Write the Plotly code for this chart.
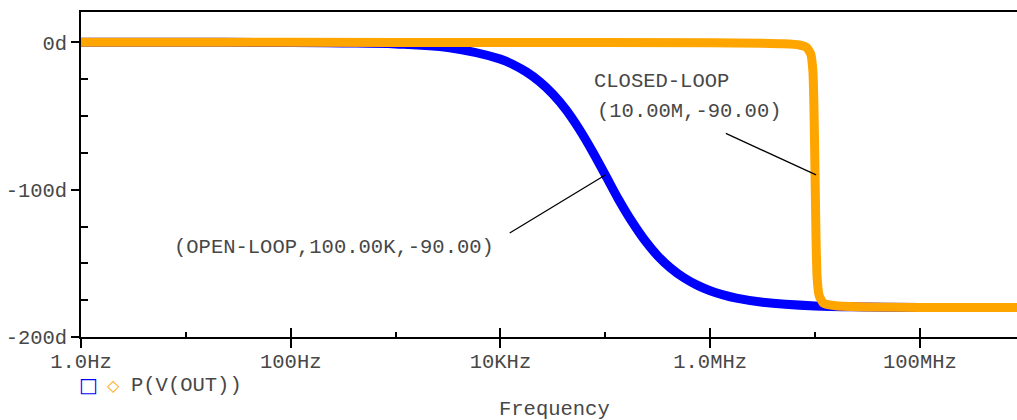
import plotly.graph_objects as go

# ---- data ----
freq_open = [1, 10, 100, 316, 1000, 3160, 10000, 13300, 17800, 23700, 31600, 42200,
             56200, 75000, 100000, 133000, 178000, 237000, 316000, 422000, 562000,
             750000, 1000000, 1330000, 1780000, 3160000, 10000000, 31600000,
             100000000, 850000000]
phase_open = [0, 0, -0.1, -0.4, -1.1, -3.6, -11.4, -15.2, -20.2, -26.7, -35.1, -45.7,
              -58.7, -73.7, -90, -106.3, -121.3, -134.2, -144.9, -153.3, -159.8,
              -164.8, -168.6, -171.4, -173.6, -176.4, -178.9, -179.6, -180, -180]

freq_closed = [1, 100, 10000, 1000000, 3160000, 5000000, 7080000, 8320000, 9120000,
               9550000, 9770000, 10000000, 10230000, 10470000, 10960000, 12000000,
               15800000, 31600000, 100000000, 850000000]
phase_closed = [0, 0, -0.1, -0.3, -0.6, -1.0, -1.8, -3.5, -8, -20, -45, -90,
                -135, -160, -172, -177, -178.8, -179.6, -180, -180]

x_tick_vals = [1, 100, 10000, 1000000, 100000000]
x_tick_text = ["1.0Hz", "100Hz", "10KHz", "1.0MHz", "100MHz"]
x_minor_vals = [10, 1000, 100000, 10000000]
y_tick_vals = [0, -100, -200]
y_tick_text = ["0d", "-100d", "-200d"]
y_minor_vals = [-25, -50, -75, -125, -150, -175]

FONT = "Liberation Mono"
TXT = "#474747"
X_RANGE = [0, 8.926]
Y_RANGE = [-200, 20.6]

W, H = 1017, 420
L, R, T, B = 81, 0, 12, 83


def px_x(p):
    return (p - L) / (W - L - R)


def px_y(p):
    return (H - B - p) / (H - B - T)


fig = go.Figure()
fig.add_trace(go.Scatter(x=freq_open, y=phase_open, mode="lines",
                         line=dict(color="#0000ff", width=9, shape="spline", smoothing=1),
                         showlegend=False, hoverinfo="skip"))
fig.add_trace(go.Scatter(x=freq_closed, y=phase_closed, mode="lines",
                         line=dict(color="#ffa500", width=9, shape="spline", smoothing=0.5),
                         showlegend=False, hoverinfo="skip"))
# invisible trace to hold the overlay axis (outer part of major ticks)
fig.add_trace(go.Scatter(x=[1], y=[0], xaxis="x2", mode="markers",
                         marker=dict(opacity=0), showlegend=False, hoverinfo="skip"))

tickfont = dict(family=FONT, size=20.5, color=TXT)

fig.update_layout(
    width=W, height=H,
    margin=dict(l=L, r=R, t=T, b=B, autoexpand=False),
    paper_bgcolor="white", plot_bgcolor="white",
    xaxis=dict(type="log", range=X_RANGE, tickvals=x_tick_vals, ticktext=x_tick_text,
               ticks="inside", ticklen=9, tickwidth=1.5, tickcolor="black",
               showline=True, linecolor="black", linewidth=1.5, mirror=True,
               showgrid=False, zeroline=False, tickfont=tickfont,
               ticklabelstandoff=5, automargin=False,
               minor=dict(tickvals=x_minor_vals, ticks="inside", ticklen=5,
                          tickwidth=1.5, tickcolor="black", showgrid=False)),
    xaxis2=dict(type="log", range=X_RANGE, overlaying="x", anchor="y", side="bottom",
                tickvals=x_tick_vals, ticks="outside", ticklen=10, tickwidth=1.5,
                tickcolor="black", showticklabels=False, showline=False,
                showgrid=False, zeroline=False, automargin=False),
    yaxis=dict(range=Y_RANGE, tickvals=y_tick_vals, ticktext=y_tick_text,
               ticks="outside", ticklen=8, tickwidth=1.5, tickcolor="black",
               showline=True, linecolor="black", linewidth=1.5, mirror=True,
               showgrid=False, zeroline=False, tickfont=tickfont, automargin=False,
               minor=dict(tickvals=y_minor_vals, ticks="inside", ticklen=7,
                          tickwidth=1.5, tickcolor="black", showgrid=False)),
)

annfont = dict(family=FONT, size=20.5, color=TXT)
anns = [
    dict(text="CLOSED-LOOP", x=4.874, y=-26.7, xref="x", yref="y",
         xanchor="left", yanchor="middle", showarrow=False, font=annfont),
    dict(text="(10.00M,-90.00)", x=4.903, y=-47.0, xref="x", yref="y",
         xanchor="left", yanchor="middle", showarrow=False, font=annfont),
    dict(text="(OPEN-LOOP,100.00K,-90.00)", x=0.870, y=-139.4, xref="x", yref="y",
         xanchor="left", yanchor="middle", showarrow=False, font=annfont),
    # leader lines
    dict(text="", x=7.01, y=-90, xref="x", yref="y", ax=6.135, ay=-61.3,
         axref="x", ayref="y", showarrow=True, arrowhead=0, arrowwidth=1.3,
         arrowcolor="black", standoff=0, startstandoff=0),
    dict(text="", x=5.0, y=-90, xref="x", yref="y", ax=4.074, ay=-130.0,
         axref="x", ayref="y", showarrow=True, arrowhead=0, arrowwidth=1.3,
         arrowcolor="black", standoff=0, startstandoff=0),
    # legend
    dict(text="□", x=px_x(88), y=px_y(385), xref="paper", yref="paper",
         xanchor="center", yanchor="middle", showarrow=False,
         font=dict(family="DejaVu Sans", size=20, color="#0000ff")),
    dict(text="◇", x=px_x(113), y=px_y(385), xref="paper", yref="paper",
         xanchor="center", yanchor="middle", showarrow=False,
         font=dict(family="DejaVu Sans", size=16, color="#ffa500")),
    dict(text="P(V(OUT))", x=px_x(129), y=px_y(385), xref="paper", yref="paper",
         xanchor="left", yanchor="middle", showarrow=False, font=annfont),
    # axis title
    dict(text="Frequency", x=px_x(554), y=px_y(409), xref="paper", yref="paper",
         xanchor="center", yanchor="middle", showarrow=False, font=annfont),
]
fig.update_layout(annotations=anns)

fig.write_html("out.html", config={"displayModeBar": False},
               post_script="document.body.style.margin='0px';"
                           "document.body.style.overflow='hidden';")
